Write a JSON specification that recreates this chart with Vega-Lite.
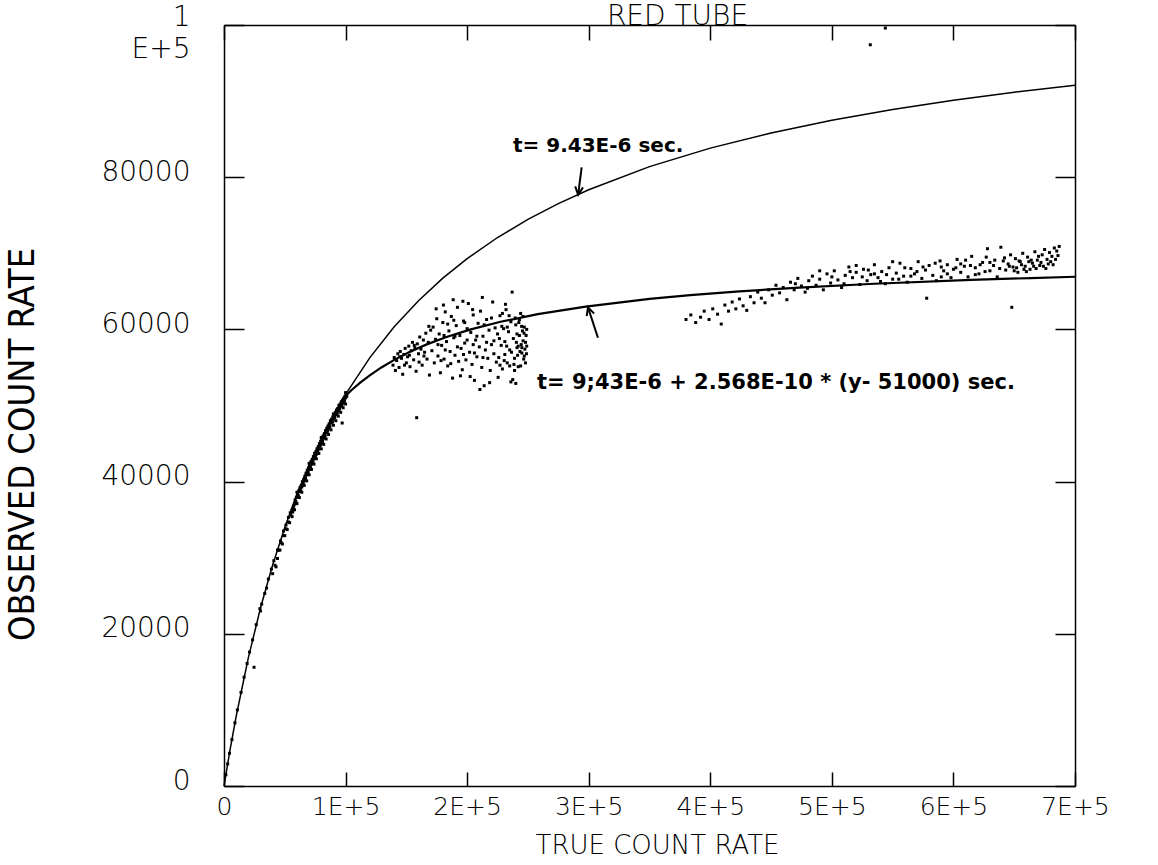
{
  "$schema": "https://vega.github.io/schema/vega-lite/v6.json",
  "width": 851,
  "height": 761,
  "autosize": {"type": "none"},
  "padding": {"left": 224, "top": 25, "right": 83, "bottom": 79},
  "background": "white",
  "title": {"text": "RED TUBE", "font": "DejaVu Sans", "fontSize": 28, "fontWeight": 200, "anchor": "middle", "dx": 28, "baseline": "alphabetic", "offset": -50, "color": "black"},
  "config": {
    "view": {"stroke": null},
    "axis": {"grid": false, "domainColor": "black", "domainWidth": 1.5, "tickColor": "black", "tickWidth": 1.5, "labelColor": "black", "titleColor": "black", "labelFont": "DejaVu Sans", "labelFontWeight": 200, "titleFontWeight": "normal"}
  },
  "datasets": {
    "curves": [
      {"c": "a", "x": 0, "y": 0}, {"c": "a", "x": 5000, "y": 4775}, {"c": "a", "x": 10000, "y": 9138}, {"c": "a", "x": 20000, "y": 16827}, {"c": "a", "x": 30000, "y": 23385}, {"c": "a", "x": 40000, "y": 29044}, {"c": "a", "x": 50000, "y": 33979}, {"c": "a", "x": 60000, "y": 38319}, {"c": "a", "x": 70000, "y": 42166}, {"c": "a", "x": 80000, "y": 45600}, {"c": "a", "x": 90000, "y": 48683}, {"c": "a", "x": 100000, "y": 51467}, {"c": "a", "x": 120000, "y": 56296}, {"c": "a", "x": 140000, "y": 60340}, {"c": "a", "x": 160000, "y": 63776}, {"c": "a", "x": 180000, "y": 66731}, {"c": "a", "x": 200000, "y": 69300}, {"c": "a", "x": 225000, "y": 72075}, {"c": "a", "x": 250000, "y": 74460}, {"c": "a", "x": 275000, "y": 76532}, {"c": "a", "x": 300000, "y": 78349}, {"c": "a", "x": 350000, "y": 81386}, {"c": "a", "x": 400000, "y": 83822}, {"c": "a", "x": 450000, "y": 85821}, {"c": "a", "x": 500000, "y": 87489}, {"c": "a", "x": 550000, "y": 88903}, {"c": "a", "x": 600000, "y": 90117}, {"c": "a", "x": 650000, "y": 91171}, {"c": "a", "x": 700000, "y": 92093},
      {"c": "b", "x": 98253, "y": 51000}, {"c": "b", "x": 104778, "y": 52000}, {"c": "b", "x": 112053, "y": 53000}, {"c": "b", "x": 120220, "y": 54000}, {"c": "b", "x": 129457, "y": 55000}, {"c": "b", "x": 139994, "y": 56000}, {"c": "b", "x": 152136, "y": 57000}, {"c": "b", "x": 166285, "y": 58000}, {"c": "b", "x": 182991, "y": 59000}, {"c": "b", "x": 203027, "y": 60000}, {"c": "b", "x": 227508, "y": 61000}, {"c": "b", "x": 258116, "y": 62000}, {"c": "b", "x": 297494, "y": 63000}, {"c": "b", "x": 350067, "y": 64000}, {"c": "b", "x": 383572, "y": 64500}, {"c": "b", "x": 423834, "y": 65000}, {"c": "b", "x": 473133, "y": 65500}, {"c": "b", "x": 534898, "y": 66000}, {"c": "b", "x": 614557, "y": 66500}, {"c": "b", "x": 663717, "y": 66750}, {"c": "b", "x": 700000, "y": 66920}
    ],
    "pts": [
      {"x":1500,"y":1480},{"x":3000,"y":2900},{"x":4500,"y":4300},{"x":6500,"y":6100},{"x":9000,"y":8300},{"x":11000,"y":10000},{"x":14000,"y":12300},{"x":16500,"y":14300},{"x":19000,"y":16100},{"x":21000,"y":17600},{"x":23500,"y":19200},{"x":24700,"y":15600},{"x":26500,"y":21200},{"x":29500,"y":23300},{"x":30000,"y":23000},{"x":31000,"y":23900},{"x":33500,"y":25300},{"x":35000,"y":26000},{"x":36500,"y":27200},{"x":39000,"y":28500},{"x":41000,"y":29600},{"x":42800,"y":28800},{"x":44000,"y":31000},{"x":46500,"y":32200},{"x":49000,"y":33500},{"x":51000,"y":34300},{"x":53000,"y":35300},{"x":54500,"y":35900},
      {"x":56000,"y":36300},{"x":56500,"y":36000},{"x":57000,"y":36700},{"x":57500,"y":36900},{"x":58000,"y":37100},{"x":58500,"y":37600},{"x":59000,"y":37400},{"x":59500,"y":37900},{"x":60000,"y":38000},{"x":60500,"y":38400},{"x":61000,"y":38200},{"x":61500,"y":38800},{"x":62000,"y":38700},{"x":62500,"y":39200},{"x":63000,"y":39000},{"x":63500,"y":39500},{"x":64000,"y":39300},{"x":64500,"y":40000},{"x":65000,"y":39800},{"x":65500,"y":40300},{"x":66000,"y":40100},{"x":66500,"y":40700},{"x":67000,"y":40500},{"x":67500,"y":41100},{"x":68000,"y":40900},{"x":68500,"y":41500},{"x":69000,"y":41200},{"x":69500,"y":41800},{"x":70000,"y":41600},{"x":70500,"y":42200},{"x":71000,"y":41900},{"x":71500,"y":42600},{"x":72000,"y":42300},{"x":72500,"y":42900},{"x":73000,"y":42700},{"x":73500,"y":43300},{"x":74000,"y":43000},{"x":74500,"y":43700},{"x":75000,"y":43400},{"x":75500,"y":43900},{"x":76000,"y":43600},{"x":76500,"y":44300},{"x":77000,"y":44000},{"x":77500,"y":44600},{"x":78000,"y":44300},{"x":78500,"y":45000},{"x":79000,"y":44800},{"x":79500,"y":45300},{"x":80000,"y":45000},{"x":80500,"y":45700},{"x":81000,"y":45300},{"x":81500,"y":46000},{"x":82000,"y":45700},{"x":82500,"y":46300},{"x":83000,"y":46000},{"x":83500,"y":46700},{"x":84000,"y":46400},{"x":84500,"y":47000},{"x":85000,"y":46700},{"x":85500,"y":47300},{"x":86000,"y":47000},{"x":86500,"y":47600},{"x":87000,"y":47300},{"x":87500,"y":48000},{"x":88000,"y":47700},{"x":88500,"y":48200},{"x":89000,"y":47900},{"x":89500,"y":48500},{"x":90000,"y":48200},{"x":90500,"y":48800},{"x":91000,"y":48500},{"x":91500,"y":49100},{"x":92000,"y":48800},{"x":92500,"y":49400},{"x":93000,"y":49100},{"x":93500,"y":49600},{"x":94000,"y":49300},{"x":94500,"y":50000},{"x":95000,"y":49700},{"x":95500,"y":50200},{"x":96000,"y":49900},{"x":96500,"y":50500},{"x":97000,"y":50200},{"x":97200,"y":47700},{"x":97500,"y":50700},{"x":98000,"y":50400},{"x":98500,"y":50900},{"x":99000,"y":50600},{"x":99500,"y":51200},{"x":100000,"y":51000},{"x":100500,"y":51400},{"x":101000,"y":51200},
      {"x":40000,"y":27900},{"x":42000,"y":29000},{"x":44000,"y":29900},{"x":46000,"y":31000},{"x":48000,"y":31800},{"x":50000,"y":32900},{"x":52000,"y":33700},{"x":54000,"y":34600},{"x":56000,"y":35400},{"x":58000,"y":36300},{"x":60000,"y":37100},{"x":62000,"y":37900},{"x":64000,"y":38600},{"x":66000,"y":39500},{"x":68000,"y":40100},{"x":70000,"y":40900},{"x":72000,"y":41600},{"x":74000,"y":42300},{"x":76000,"y":43000},{"x":78000,"y":43700},{"x":80000,"y":44300},{"x":82000,"y":44900},{"x":84000,"y":45600},{"x":86000,"y":46200},{"x":88000,"y":46800},{"x":90000,"y":47400},{"x":92000,"y":48000},{"x":94000,"y":48600},{"x":96000,"y":49100},{"x":98000,"y":49700},{"x":100000,"y":50200},
      {"x":45000,"y":31000},{"x":47000,"y":31970},{"x":49000,"y":32900},{"x":51000,"y":33800},{"x":53000,"y":34700},{"x":55000,"y":35600},{"x":57000,"y":36470},{"x":59000,"y":37300},{"x":61000,"y":38100},{"x":63000,"y":38900},{"x":65000,"y":39700},{"x":67000,"y":40450},{"x":69000,"y":41200},{"x":71000,"y":41930},{"x":73000,"y":42640},{"x":75000,"y":43330},{"x":77000,"y":44010},{"x":79000,"y":44675},{"x":81000,"y":45320},{"x":83000,"y":45960},{"x":85000,"y":46580},{"x":87000,"y":47190},{"x":89000,"y":47790},{"x":91000,"y":48375},{"x":93000,"y":48950},{"x":95000,"y":49510},{"x":97000,"y":50060},{"x":99000,"y":50600},
      {"x":60000,"y":38600},{"x":70000,"y":42400},{"x":80000,"y":45800},{"x":90000,"y":48900},{"x":100000,"y":51700},
      {"x":139000,"y":55300},{"x":140000,"y":56300},{"x":141000,"y":54600},{"x":142000,"y":55900},{"x":143000,"y":56800},{"x":144000,"y":55000},{"x":145000,"y":57100},{"x":146000,"y":56200},{"x":147000,"y":54100},{"x":148000,"y":56700},{"x":149000,"y":57500},{"x":150000,"y":55600},{"x":151000,"y":56400},{"x":152000,"y":57800},{"x":153000,"y":55100},{"x":154000,"y":57200},{"x":155000,"y":58300},{"x":156000,"y":56000},{"x":157000,"y":57600},{"x":158000,"y":54500},{"x":158500,"y":48400},{"x":159000,"y":58100},{"x":160000,"y":56800},{"x":161000,"y":59000},{"x":162000,"y":57400},{"x":163000,"y":55300},{"x":164000,"y":58600},{"x":165000,"y":57000},{"x":166000,"y":59500},{"x":167000,"y":56100},{"x":168000,"y":58300},{"x":169000,"y":54000},{"x":170000,"y":59900},
      {"x":144500,"y":56400},{"x":148500,"y":55300},{"x":152500,"y":56600},{"x":156500,"y":57900},{"x":160500,"y":55700},{"x":164500,"y":56500},{"x":168500,"y":60400},
      {"x":171000,"y":57200},{"x":172000,"y":60300},{"x":173000,"y":55600},{"x":174000,"y":58700},{"x":175000,"y":61400},{"x":176000,"y":56500},{"x":177000,"y":59400},{"x":178000,"y":54300},{"x":179000,"y":57900},{"x":180000,"y":60900},{"x":181000,"y":56100},{"x":182000,"y":62300},{"x":183000,"y":58400},{"x":184000,"y":55200},{"x":185000,"y":59800},{"x":186000,"y":57100},{"x":187000,"y":61700},{"x":188000,"y":53600},{"x":189000,"y":58900},{"x":190000,"y":56600},{"x":191000,"y":60500},{"x":192000,"y":62900},{"x":193000,"y":55800},{"x":194000,"y":59200},{"x":195000,"y":57500},{"x":196000,"y":54700},{"x":197000,"y":61100},{"x":198000,"y":58200},{"x":199000,"y":56000},{"x":200000,"y":60100},{"x":201000,"y":63400},{"x":202000,"y":57000},{"x":203000,"y":59600},{"x":204000,"y":55400},{"x":205000,"y":61900},{"x":206000,"y":53300},{"x":207000,"y":58600},{"x":208000,"y":56400},{"x":209000,"y":60800},{"x":210000,"y":57700},{"x":211000,"y":62400},{"x":212000,"y":55000},{"x":213000,"y":59100},{"x":214000,"y":52600},{"x":215000,"y":57300},{"x":216000,"y":61300},{"x":217000,"y":56200},{"x":218000,"y":59900},{"x":219000,"y":54600},{"x":220000,"y":58000},{"x":221000,"y":63600},{"x":222000,"y":56800},{"x":223000,"y":60200},{"x":224000,"y":55700},
      {"x":174500,"y":62700},{"x":180500,"y":63200},{"x":188500,"y":63900},{"x":196500,"y":63700},{"x":204500,"y":62600},{"x":212500,"y":64200},{"x":178500,"y":55900},{"x":186500,"y":55500},{"x":194500,"y":53900},{"x":202500,"y":53800},{"x":210500,"y":52100},{"x":218500,"y":53000},{"x":176000,"y":58000},{"x":184000,"y":60700},{"x":192000,"y":57700},{"x":200000,"y":58600},{"x":208000,"y":59100},{"x":216000,"y":58300},{"x":182000,"y":57300},{"x":190000,"y":59100},{"x":198000,"y":60900},{"x":206000,"y":56900},{"x":214000,"y":60600},{"x":222000,"y":58500},{"x":220000,"y":61500},{"x":213000,"y":56300},{"x":205000,"y":58000},{"x":197000,"y":56700},{"x":189000,"y":61200},{"x":181000,"y":59200},
      {"x":225000,"y":59400},{"x":226000,"y":56300},{"x":227000,"y":61800},{"x":228000,"y":57900},{"x":229000,"y":54800},{"x":230000,"y":60100},{"x":231000,"y":58400},{"x":232000,"y":62600},{"x":233000,"y":55600},{"x":234000,"y":59700},{"x":235000,"y":57300},{"x":236000,"y":61000},{"x":237000,"y":64900},{"x":237500,"y":53400},{"x":238000,"y":58800},{"x":239000,"y":56200},{"x":240000,"y":60600},{"x":241000,"y":57600},{"x":242000,"y":55100},{"x":243000,"y":59200},{"x":244000,"y":62100},{"x":245000,"y":56900},{"x":246000,"y":58500},{"x":247000,"y":60300},{"x":248000,"y":55600},{"x":249000,"y":57800},
      {"x":243500,"y":57100},{"x":244500,"y":58000},{"x":245500,"y":59800},{"x":246500,"y":56100},{"x":247500,"y":57400},{"x":248500,"y":59200},{"x":242500,"y":60900},{"x":241500,"y":56600},{"x":240500,"y":58300},{"x":239500,"y":61500},{"x":238500,"y":55400},{"x":236500,"y":57000},{"x":234500,"y":61800},{"x":232500,"y":57800},{"x":230500,"y":55900},{"x":228500,"y":60400},{"x":226500,"y":58800},{"x":244000,"y":55200},{"x":246000,"y":61700},{"x":248000,"y":58300},{"x":245000,"y":57600},{"x":247000,"y":56500},{"x":243000,"y":61300},{"x":241000,"y":59400},{"x":239000,"y":54600},{"x":235000,"y":55200},{"x":233000,"y":60300},{"x":231000,"y":56700},{"x":229000,"y":62100},{"x":227000,"y":55300},{"x":242000,"y":57800},{"x":249000,"y":60000},{"x":236000,"y":53100},{"x":240000,"y":52900},{"x":225500,"y":53700},{"x":231500,"y":63300},{"x":246800,"y":59500},{"x":244800,"y":60400},{"x":248800,"y":56800},
      {"x":380000,"y":61300},{"x":384000,"y":61900},{"x":388000,"y":60900},{"x":392000,"y":61600},{"x":395000,"y":62400},{"x":399000,"y":61300},{"x":402000,"y":62700},{"x":406000,"y":62000},{"x":409000,"y":60700},{"x":412000,"y":63200},{"x":415000,"y":62400},{"x":418000,"y":63600},{"x":421000,"y":62700},{"x":424000,"y":64000},{"x":427000,"y":63100},{"x":430000,"y":62500},{"x":433000,"y":64300},{"x":436000,"y":63500},{"x":439000,"y":64900},{"x":442000,"y":64100},{"x":445000,"y":63500},{"x":448000,"y":65200},{"x":451000,"y":64500},
      {"x":454000,"y":65800},{"x":457000,"y":64800},{"x":460000,"y":65500},{"x":463000,"y":63900},{"x":466000,"y":66200},{"x":469000,"y":65200},{"x":472000,"y":66700},{"x":475000,"y":65700},{"x":478000,"y":64900},{"x":481000,"y":66400},{"x":484000,"y":67000},{"x":487000,"y":65800},{"x":490000,"y":66600},{"x":493000,"y":65200},{"x":496000,"y":67300},{"x":499000,"y":66100},{"x":502000,"y":67700},{"x":505000,"y":66500},{"x":508000,"y":65500},{"x":511000,"y":67100},{"x":514000,"y":68200},{"x":517000,"y":66800},{"x":520000,"y":67500},{"x":523000,"y":65900},{"x":526000,"y":67900},{"x":529000,"y":66400},{"x":532000,"y":67200},{"x":535000,"y":68500},{"x":538000,"y":66800},{"x":541000,"y":67600},{"x":544000,"y":66000},{"x":547000,"y":68100},{"x":550000,"y":66600},{"x":553000,"y":67400},{"x":556000,"y":68700},{"x":559000,"y":67000},{"x":562000,"y":66200},{"x":565000,"y":68000},{"x":568000,"y":67300},{"x":571000,"y":68900},{"x":574000,"y":66700},{"x":577000,"y":67800},{"x":578000,"y":64100},{"x":580000,"y":68400},{"x":583000,"y":67100},{"x":586000,"y":66400},{"x":589000,"y":69000},{"x":592000,"y":67700},{"x":595000,"y":68500},{"x":598000,"y":66800},
      {"x":470000,"y":66000},{"x":480000,"y":65400},{"x":490000,"y":67700},{"x":500000,"y":66900},{"x":510000,"y":66000},{"x":520000,"y":68400},{"x":530000,"y":67800},{"x":540000,"y":66300},{"x":550000,"y":68900},{"x":560000,"y":68100},{"x":570000,"y":67600},{"x":590000,"y":68200},{"x":545000,"y":67200},{"x":555000,"y":66600},{"x":565000,"y":67000},{"x":585000,"y":68700},{"x":595000,"y":67300},{"x":525000,"y":66900},{"x":535000,"y":67300},{"x":515000,"y":67600},
      {"x":600000,"y":67900},{"x":603000,"y":69200},{"x":606000,"y":67500},{"x":609000,"y":68300},{"x":612000,"y":66900},{"x":615000,"y":69600},{"x":618000,"y":68100},{"x":621000,"y":67300},{"x":624000,"y":68800},{"x":627000,"y":69500},{"x":628000,"y":70600},{"x":630000,"y":67700},{"x":633000,"y":68400},{"x":636000,"y":66900},{"x":639000,"y":70800},{"x":641000,"y":69000},{"x":643000,"y":67800},{"x":645000,"y":68600},{"x":647000,"y":69800},{"x":648000,"y":62900},{"x":649000,"y":68200},{"x":651000,"y":69300},{"x":653000,"y":67500},{"x":655000,"y":68900},{"x":657000,"y":70000},{"x":659000,"y":68300},{"x":661000,"y":69500},{"x":663000,"y":67900},{"x":665000,"y":68700},{"x":667000,"y":70200},{"x":669000,"y":69100},{"x":671000,"y":68400},{"x":673000,"y":69800},{"x":675000,"y":70500},{"x":677000,"y":69200},{"x":679000,"y":70100},{"x":681000,"y":69600},{"x":683000,"y":70700},{"x":685000,"y":70300},{"x":687000,"y":70900},
      {"x":652000,"y":68100},{"x":656000,"y":68500},{"x":660000,"y":67600},{"x":664000,"y":69100},{"x":668000,"y":68000},{"x":672000,"y":68800},{"x":676000,"y":68000},{"x":680000,"y":68900},{"x":684000,"y":69200},{"x":686000,"y":69700},{"x":682000,"y":68500},{"x":678000,"y":68600},{"x":674000,"y":68300},{"x":670000,"y":69600},{"x":666000,"y":68300},{"x":662000,"y":68900},{"x":658000,"y":67900},{"x":654000,"y":69000},{"x":650000,"y":67700},{"x":646000,"y":68300},{"x":642000,"y":69400},{"x":638000,"y":68000},{"x":634000,"y":69100},{"x":630000,"y":68800},{"x":626000,"y":67600},{"x":622000,"y":68500},{"x":618000,"y":67200},{"x":614000,"y":68400},{"x":610000,"y":69100},{"x":606000,"y":68600},{"x":602000,"y":68100},{"x":575000,"y":68200},{"x":590000,"y":66900},
      {"x":531600,"y":97400},{"x":544000,"y":99600}
    ],
    "notes1": [{"x": 237700, "y": 84100, "t": "t= 9.43E-6 sec."}],
    "notes2": [{"x": 257500, "y": 53000, "t": "t= 9;43E-6 + 2.568E-10 * (y- 51000) sec."}],
    "arrows": [
      {"id": 1, "x": 294200, "y": 81300, "x2": 291300, "y2": 77700},
      {"id": 2, "x": 307600, "y": 58900, "x2": 299400, "y2": 62900}
    ]
  },
  "resolve": {"axis": {"x": "independent", "y": "independent"}},
  "layer": [
    {
      "data": {"name": "curves"},
      "transform": [{"filter": "datum.c == 'a'"}],
      "mark": {"type": "line", "color": "black", "strokeWidth": 1.5},
      "encoding": {
        "x": {"field": "x", "type": "quantitative", "scale": {"domain": [0, 700000], "nice": false, "zero": true},
          "axis": {"orient": "bottom", "values": [0, 100000, 200000, 300000, 400000, 500000, 600000, 700000], "labelExpr": "datum.value == 0 ? '0' : (datum.value / 100000) + 'E+5'", "tickSize": -14, "labelPadding": 22, "labelFontSize": 25, "labelBaseline": "top", "labelAlign": "center", "labelFlush": false, "labelOverlap": false, "title": "TRUE COUNT RATE", "titleFont": "DejaVu Sans", "titleFontSize": 26, "titleFontWeight": 200, "titleX": 433, "titleY": 67, "titleBaseline": "alphabetic", "titleAlign": "center"}},
        "y": {"field": "y", "type": "quantitative", "scale": {"domain": [0, 100000], "nice": false, "zero": true},
          "axis": {"orient": "left", "values": [0, 20000, 40000, 60000, 80000, 100000], "format": "d", "labelExpr": "datum.value == 100000 ? ['1', 'E+5'] : datum.label", "tickSize": -20, "labelPadding": 54, "labelFontSize": 28, "labelLineHeight": 32, "labelBaseline": "middle", "labelAlign": "right", "labelOffset": {"condition": {"test": "datum.value == 100000", "value": -8}, "value": -5}, "labelFlush": false, "labelOverlap": false, "title": "OBSERVED COUNT RATE", "titleFont": "'DejaVu Sans Condensed', 'Liberation Sans'", "titleFontSize": 36, "titleFontWeight": 200, "titleAngle": 270, "titleX": -202, "titleY": 419, "titleAlign": "center", "titleBaseline": "middle"}}
      }
    },
    {
      "data": {"name": "curves"},
      "transform": [{"filter": "datum.c == 'b'"}],
      "mark": {"type": "line", "color": "black", "strokeWidth": 2.2},
      "encoding": {
        "x": {"field": "x", "type": "quantitative", "axis": null},
        "y": {"field": "y", "type": "quantitative", "axis": null}
      }
    },
    {
      "data": {"name": "pts"},
      "mark": {"type": "point", "shape": "square", "filled": true, "size": 9, "color": "black", "opacity": 1},
      "encoding": {
        "x": {"field": "x", "type": "quantitative", "axis": {"orient": "top", "values": [0, 100000, 200000, 300000, 400000, 500000, 600000, 700000], "labels": false, "tickSize": -15, "title": null}},
        "y": {"field": "y", "type": "quantitative", "axis": {"orient": "right", "values": [0, 20000, 40000, 60000, 80000, 100000], "labels": false, "tickSize": -20, "title": null}}
      }
    },
    {
      "data": {"name": "notes1"},
      "mark": {"type": "text", "align": "left", "baseline": "middle", "font": "DejaVu Sans", "fontSize": 20, "fontWeight": "bold", "color": "black"},
      "encoding": {
        "x": {"field": "x", "type": "quantitative", "axis": null},
        "y": {"field": "y", "type": "quantitative", "axis": null},
        "text": {"field": "t"}
      }
    },
    {
      "data": {"name": "notes2"},
      "mark": {"type": "text", "align": "left", "baseline": "middle", "font": "DejaVu Sans", "fontSize": 21, "fontWeight": "bold", "color": "black"},
      "encoding": {
        "x": {"field": "x", "type": "quantitative", "axis": null},
        "y": {"field": "y", "type": "quantitative", "axis": null},
        "text": {"field": "t"}
      }
    },
    {
      "data": {"name": "arrows"},
      "mark": {"type": "rule", "color": "black", "strokeWidth": 2},
      "encoding": {
        "x": {"field": "x", "type": "quantitative", "axis": null},
        "y": {"field": "y", "type": "quantitative", "axis": null},
        "x2": {"field": "x2"},
        "y2": {"field": "y2"}
      }
    },
    {
      "data": {"name": "arrows"},
      "transform": [{"filter": "datum.id == 1"}],
      "mark": {"type": "point", "shape": "M-0.5,-1L0,0L0.5,-1", "filled": false, "stroke": "black", "strokeWidth": 2, "size": 250, "angle": 7, "opacity": 1},
      "encoding": {
        "x": {"field": "x2", "type": "quantitative", "axis": null},
        "y": {"field": "y2", "type": "quantitative", "axis": null}
      }
    },
    {
      "data": {"name": "arrows"},
      "transform": [{"filter": "datum.id == 2"}],
      "mark": {"type": "point", "shape": "M-0.5,1L0,0L0.5,1", "filled": false, "stroke": "black", "strokeWidth": 2, "size": 250, "angle": -18, "opacity": 1},
      "encoding": {
        "x": {"field": "x2", "type": "quantitative", "axis": null},
        "y": {"field": "y2", "type": "quantitative", "axis": null}
      }
    }
  ]
}
